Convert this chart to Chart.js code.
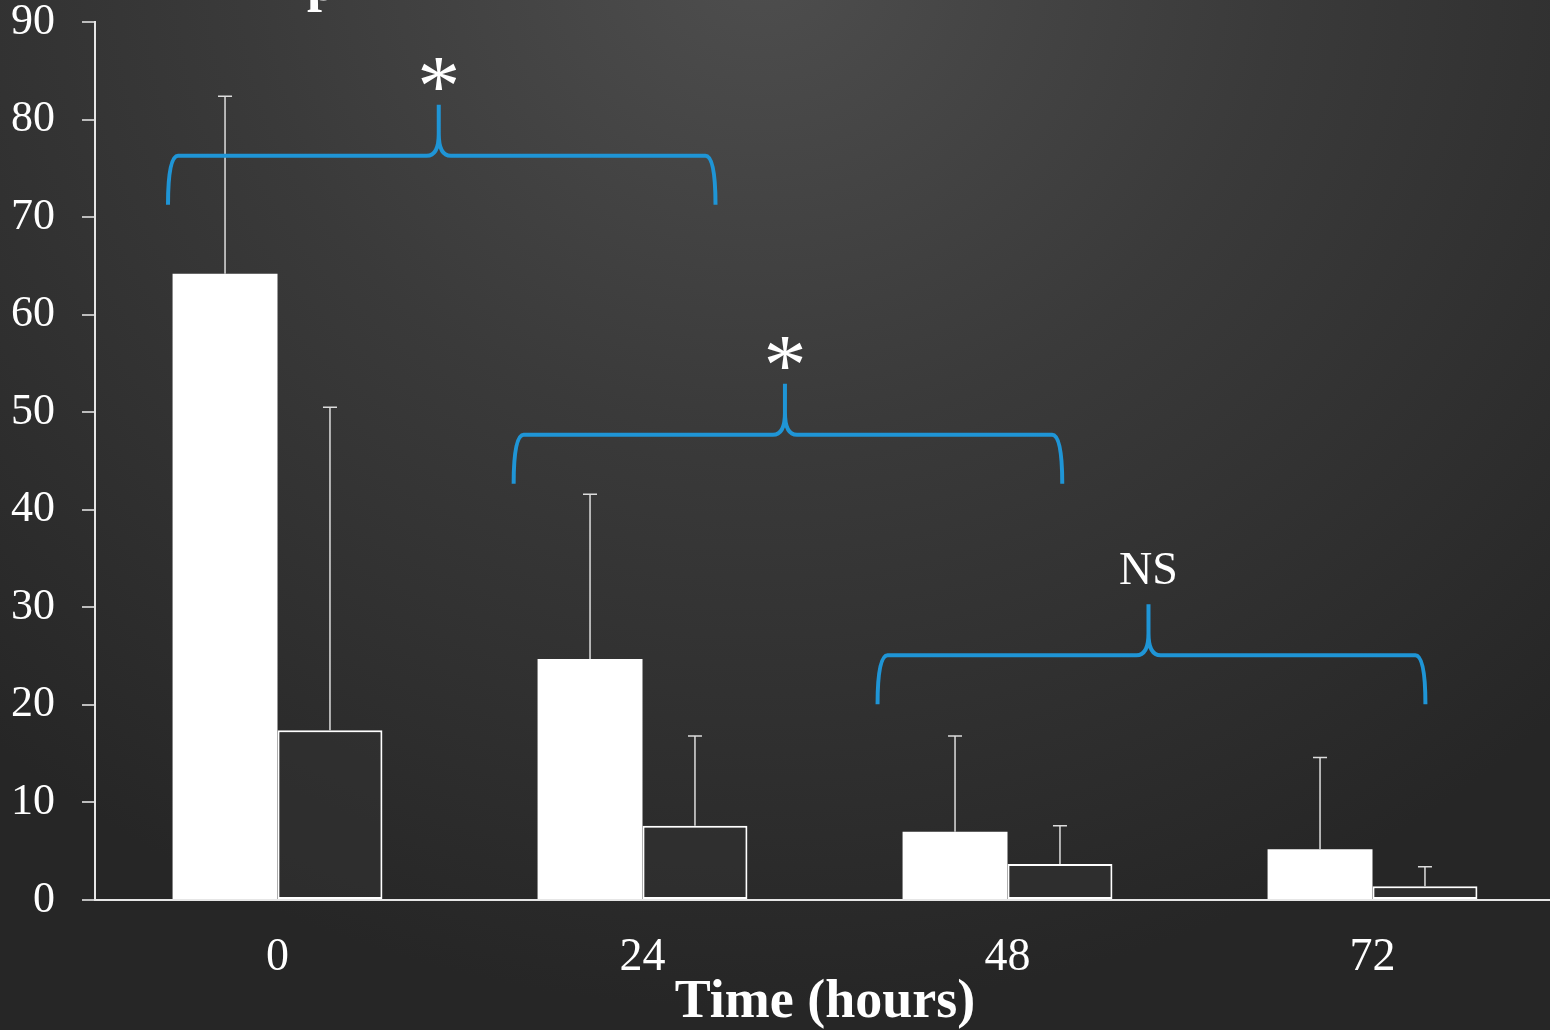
<!DOCTYPE html>
<html>
<head>
<meta charset="utf-8">
<script src="https://cdn.jsdelivr.net/npm/chart.js@4/dist/chart.umd.min.js"></script>
<style>
  html, body { margin: 0; padding: 0; overflow: hidden; }
  body {
    width: 1550px; height: 1030px;
    background: radial-gradient(ellipse 1150px 1050px at 760px -40px, #4e4e4e 0%, #3a3a3a 45%, #262626 100%);
  }
  #wrap { position: relative; width: 1555px; height: 1030px; }
</style>
</head>
<body>
<div id="wrap"><canvas id="chart"></canvas></div>
<script>
// data
const hours = ['0', '24', '48', '72'];
const whiteMeans = [64.2, 24.7, 7.0, 5.2];
const whiteUpper = [82.4, 41.6, 16.8, 14.6];   // top of error bar
const darkMeans = [17.4, 7.6, 3.7, 1.4];
const darkUpper = [50.5, 16.8, 7.6, 3.4];
const yTicks = [0, 10, 20, 30, 40, 50, 60, 70, 80, 90];

// significance braces: span in category index units, level in y units
const braceFrom = [-0.3, 0.647, 1.644];
const braceTo = [1.2, 2.15, 3.145];
const braceLevel = [76.3, 47.7, 25.1];
const braceText = ['*', '*', 'NS'];

const SERIF = '"Liberation Serif", "DejaVu Serif", serif';
const BLUE = '#1f95d6';

// error bars (upper only)
const errorBars = {
    id: 'errorBars',
    afterDatasetsDraw(chart) {
        const ctx = chart.ctx;
        const y = chart.scales.y;
        const uppers = [whiteUpper, darkUpper];
        ctx.save();
        ctx.strokeStyle = '#dddddd';
        ctx.lineWidth = 1.5;
        uppers.forEach((up, i) => {
            chart.getDatasetMeta(i).data.forEach((bar, j) => {
                const top = y.getPixelForValue(up[j]);
                ctx.beginPath();
                ctx.moveTo(bar.x, bar.y);
                ctx.lineTo(bar.x, top);
                ctx.moveTo(bar.x - 7, top);
                ctx.lineTo(bar.x + 7, top);
                ctx.stroke();
            });
        });
        ctx.restore();
    }
};

// curly braces with labels
const braces = {
    id: 'braces',
    afterDatasetsDraw(chart) {
        const ctx = chart.ctx;
        const xs = chart.scales.x, ys = chart.scales.y;
        ctx.save();
        braceFrom.forEach((f, i) => {
            const x1 = xs.getPixelForValue(f);
            const x2 = xs.getPixelForValue(braceTo[i]);
            const xm = (x1 + x2) / 2 - 3;
            const yl = ys.getPixelForValue(braceLevel[i]);
            const tip = yl + 49;
            const peak = yl - 51;
            ctx.beginPath();
            ctx.strokeStyle = BLUE;
            ctx.lineWidth = 4;
            ctx.lineJoin = 'round';
            ctx.moveTo(x1, tip);
            ctx.quadraticCurveTo(x1, yl, x1 + 10, yl);
            ctx.lineTo(xm - 12, yl);
            ctx.quadraticCurveTo(xm, yl, xm, yl - 22);
            ctx.lineTo(xm, peak);
            ctx.moveTo(xm, yl - 22);
            ctx.quadraticCurveTo(xm, yl, xm + 12, yl);
            ctx.lineTo(x2 - 10, yl);
            ctx.quadraticCurveTo(x2, yl, x2, tip);
            ctx.stroke();

            ctx.fillStyle = '#ffffff';
            ctx.textAlign = 'center';
            ctx.textBaseline = 'alphabetic';
            if (braceText[i] === '*') {
                ctx.font = '86px ' + SERIF;
                ctx.fillText('*', xm, peak + 10);
            } else {
                ctx.font = '46px ' + SERIF;
                ctx.fillText(braceText[i], xm, peak - 20);
            }
        });
        // cut-off title fragment at the very top
        ctx.fillStyle = '#ffffff';
        ctx.font = 'bold 54px ' + SERIF;
        ctx.textAlign = 'center';
        ctx.fillText('p', 322, 0);
        ctx.restore();
    }
};

new Chart(document.getElementById('chart'), {
    type: 'bar',
    data: {
        labels: hours,
        datasets: [{
            data: whiteMeans,
            backgroundColor: '#ffffff',
            borderWidth: 0,
            barPercentage: 1,
            categoryPercentage: 0.575
        }, {
            data: darkMeans,
            backgroundColor: 'rgba(50,50,50,0.6)',
            borderColor: '#ffffff',
            borderWidth: 2,
            borderSkipped: false,
            barPercentage: 1,
            categoryPercentage: 0.575
        }]
    },
    options: {
        responsive: true,
        maintainAspectRatio: false,
        animation: false,
        layout: { padding: { top: 22, left: 0, right: 0, bottom: 0 } },
        plugins: {
            legend: { display: false },
            tooltip: { enabled: false }
        },
        scales: {
            x: {
                grid: { display: false },
                border: { color: '#e6e6e6', width: 2 },
                ticks: {
                    color: '#ffffff',
                    padding: 27,
                    font: { family: SERIF, size: 46, lineHeight: 1 }
                },
                title: {
                    display: true,
                    text: 'Time (hours)',
                    color: '#ffffff',
                    padding: 0,
                    font: { family: SERIF, size: 54, weight: 'bold', lineHeight: 1 }
                },
                afterFit(scale) { scale.height = 130; }
            },
            y: {
                min: 0,
                max: 90,
                afterBuildTicks(scale) { scale.ticks = yTicks.map(v => ({ value: v })); },
                grid: {
                    drawOnChartArea: false,
                    drawTicks: true,
                    tickLength: 13,
                    color: '#bdbdbd',
                    lineWidth: 2
                },
                border: { color: '#e6e6e6', width: 2 },
                ticks: {
                    color: '#ffffff',
                    padding: 27,
                    font: { family: SERIF, size: 44, lineHeight: 1 }
                },
                afterFit(scale) {
                    scale.width = 95;
                    scale.paddingTop = 0;
                    scale.paddingBottom = 0;
                }
            }
        }
    },
    plugins: [errorBars, braces]
});
</script>
</body>
</html>
